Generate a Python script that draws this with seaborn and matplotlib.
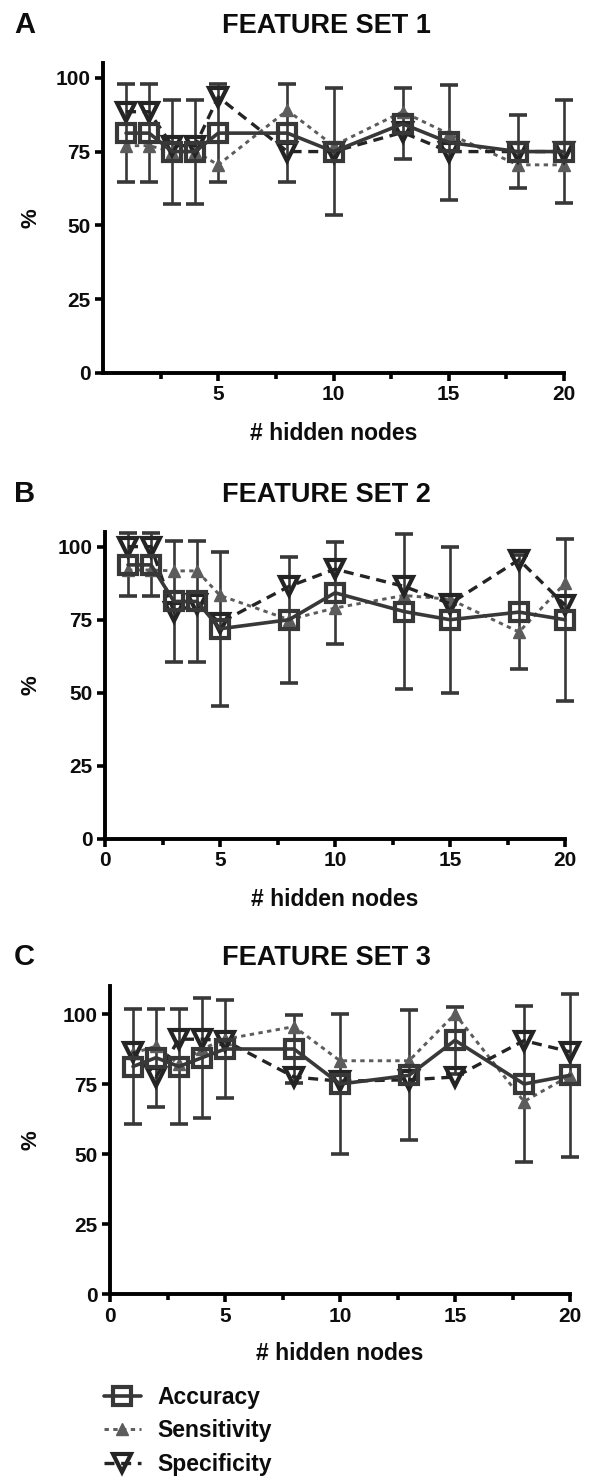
import matplotlib
matplotlib.use("Agg")
import matplotlib.pyplot as plt
import seaborn as sns
from matplotlib.ticker import FixedLocator
from matplotlib.lines import Line2D

# ---------------- data ----------------
hidden_nodes = [1, 2, 3, 4, 5, 8, 10, 13, 15, 18, 20]

acc_1 = [81.25, 81.25, 75.0, 75.0, 81.25, 81.25, 75.0, 84.4, 78.1, 75.0, 75.0]
acc_sd_1 = [16.5, 16.5, 17.6, 17.6, 16.5, 16.5, 21.5, 12.0, 19.4, 12.4, 17.5]
sens_1 = [77.0, 77.0, 75.0, 75.0, 70.5, 89.0, 77.0, 88.5, 81.0, 70.5, 70.5]
spec_1 = [88.5, 88.5, 77.0, 77.0, 93.5, 75.0, 75.0, 81.5, 75.0, 75.0, 75.0]

acc_2 = [93.75, 93.75, 81.25, 81.25, 71.9, 75.0, 84.2, 77.8, 75.0, 77.6, 75.0]
acc_sd_2 = [10.8, 10.8, 20.6, 20.6, 26.4, 21.6, 17.5, 26.4, 25.0, 19.4, 27.7]
sens_2 = [92.0, 92.0, 91.7, 91.7, 83.3, 75.0, 79.0, 83.3, 82.0, 70.8, 87.5]
spec_2 = [100.0, 100.0, 77.5, 80.5, 74.0, 86.4, 92.3, 86.4, 80.5, 95.5, 80.0]

acc_3 = [81.25, 84.4, 81.25, 84.4, 87.5, 87.5, 75.0, 78.1, 90.6, 75.0, 78.1]
acc_sd_3 = [20.7, 17.5, 20.7, 21.4, 17.5, 12.3, 24.9, 23.2, 11.9, 27.8, 29.2]
sens_3 = [86.0, 88.5, 82.0, 87.5, 91.0, 95.5, 83.3, 83.3, 100.0, 68.75, 78.0]
spec_3 = [86.5, 77.5, 91.0, 91.0, 90.5, 77.5, 76.0, 76.5, 77.5, 90.5, 86.5]

panel_letters = ["A", "B", "C"]
titles = ["FEATURE SET 1", "FEATURE SET 2", "FEATURE SET 3"]
series_names = ["Accuracy", "Sensitivity", "Specificity"]
x_label = "# hidden nodes"
y_label = "%"
y_ticks = [0, 25, 50, 75, 100]
x_ticks_A = [5, 10, 15, 20]
x_ticks_BC = [0, 5, 10, 15, 20]
x_minor = [2.5, 7.5, 12.5, 17.5]

# ---------------- style ----------------
sns.set_theme(style="ticks")
plt.rcParams["font.family"] = ["Liberation Sans", "DejaVu Sans"]
plt.rcParams["font.weight"] = "bold"

W, H = 593, 1484
fig = plt.figure(figsize=(W / 100, H / 100), dpi=100)
fig.patch.set_facecolor("white")

C_ACC = "#383838"
C_SENS = "#5c5c5c"
C_SPEC = "#242424"
C_TXT = "#0d0d0d"

acc_kw = dict(color=C_ACC, linestyle="-", linewidth=2.6, marker="s", markersize=12.5,
              markerfacecolor="none", markeredgecolor=C_ACC, markeredgewidth=3.0)
sens_kw = dict(color=C_SENS, linestyle=(0, (1.5, 1.5)), linewidth=2.1, marker="^",
               markersize=8, markerfacecolor=C_SENS, markeredgecolor=C_SENS,
               markeredgewidth=1.0)
spec_kw = dict(color=C_SPEC, linestyle=(0, (3.0, 2.0)), linewidth=2.4, marker="v",
               markersize=13, markerfacecolor="none", markeredgecolor=C_SPEC,
               markeredgewidth=3.0)


def px_axes(left, right, y0, ytop):
    return fig.add_axes([left / W, (H - y0) / H, (right - left) / W, (y0 - ytop) / H])


def draw_panel(ax, acc, sd, sens, spec, ymax, xticks):
    ax.errorbar(hidden_nodes, acc, yerr=sd, fmt="none", ecolor=C_ACC,
                elinewidth=1.9, capsize=6.4, capthick=2.6, zorder=2)
    sns.lineplot(x=hidden_nodes, y=sens, ax=ax, zorder=3, **sens_kw)
    sns.lineplot(x=hidden_nodes, y=spec, ax=ax, zorder=4, **spec_kw)
    sns.lineplot(x=hidden_nodes, y=acc, ax=ax, zorder=5, **acc_kw)
    ax.set_xlim(0, 20)
    ax.set_ylim(0, ymax)
    ax.xaxis.set_major_locator(FixedLocator(xticks))
    ax.xaxis.set_minor_locator(FixedLocator(x_minor))
    ax.yaxis.set_major_locator(FixedLocator(y_ticks))
    ax.set_xticklabels([str(t) for t in xticks])
    ax.set_yticklabels([str(t) for t in y_ticks])
    for s in ["top", "right"]:
        ax.spines[s].set_visible(False)
    for s in ["left", "bottom"]:
        ax.spines[s].set_linewidth(2.8)
        ax.spines[s].set_color("black")
        ax.spines[s].set_capstyle("projecting")
    ax.tick_params(axis="both", which="major", direction="out", length=6, width=2.6,
                   color="black", labelsize=15, pad=3, labelcolor=C_TXT)
    ax.tick_params(axis="x", which="minor", direction="out", length=4, width=2.6,
                   color="black")
    for lbl in ax.get_xticklabels() + ax.get_yticklabels():
        lbl.set_fontweight("bold")
    ax.set_xlabel("")
    ax.set_ylabel("")
    ax.set_facecolor("white")


panels = [
    # left, right, y0(px), ytop(px), ymax, data..., xticks, title baseline
    (103, 564, 373, 63, 105, acc_1, acc_sd_1, sens_1, spec_1, x_ticks_A, 33),
    (105, 565, 839, 532, 105, acc_2, acc_sd_2, sens_2, spec_2, x_ticks_BC, 502),
    (110, 570, 1294, 986, 110, acc_3, acc_sd_3, sens_3, spec_3, x_ticks_BC, 965),
]

for i, (l, r, y0, yt, ymax, acc, sd, sens, spec, xt, tb) in enumerate(panels):
    ax = px_axes(l, r, y0, yt)
    draw_panel(ax, acc, sd, sens, spec, ymax, xt)
    for ln in ax.lines:
        ln.set_clip_on(False)
    for c in ax.collections:
        c.set_clip_on(False)
    fig.text(14 / W, 1 - tb / H, panel_letters[i], fontsize=21, fontweight="bold",
             ha="left", va="baseline", color=C_TXT)
    fig.text(326 / W, 1 - tb / H, titles[i], fontsize=19.5, fontweight="bold",
             ha="center", va="baseline", color=C_TXT)
    fig.text((l + r) / 2 / W, 1 - (y0 + 60) / H, x_label, fontsize=16.5,
             fontweight="bold", ha="center", va="center", color=C_TXT)
    fig.text(31 / W, 1 - ((y0 + yt) / 2) / H, y_label, fontsize=16,
             fontweight="bold", ha="center", va="center", rotation=90, color=C_TXT)

handles = [Line2D([], [], **acc_kw), Line2D([], [], **sens_kw), Line2D([], [], **spec_kw)]
fig.legend(handles, series_names, loc="upper left",
           bbox_to_anchor=(104 / W, 1 - 1386 / H), frameon=False,
           prop={"size": 16.5, "weight": "bold"}, handlelength=1.6,
           handletextpad=0.75, labelspacing=0.45, borderpad=0, borderaxespad=0,
           labelcolor=C_TXT)

fig.savefig("out.png", dpi=100, facecolor="white")
